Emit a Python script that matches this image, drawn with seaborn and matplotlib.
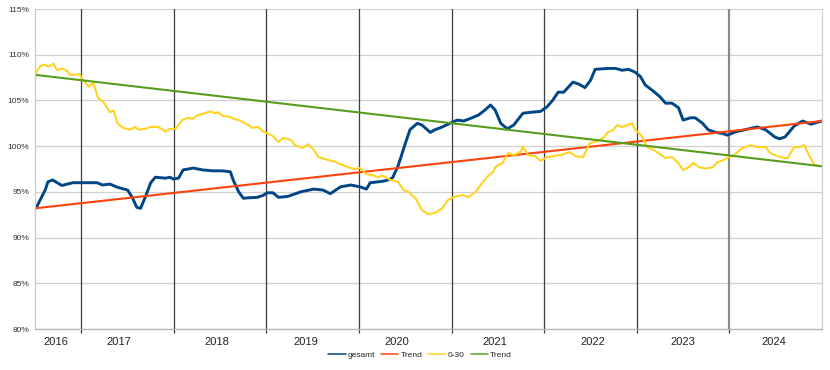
import matplotlib
matplotlib.use('Agg')
import matplotlib.pyplot as plt
import pandas as pd
import seaborn as sns

# weekly index values (decimal year, percent)
gesamt_t = [2016.51, 2016.61, 2016.64, 2016.69, 2016.74, 2016.79, 2016.85, 2016.91, 2017.04, 2017.17,
            2017.23, 2017.31, 2017.39, 2017.50, 2017.55, 2017.60, 2017.64, 2017.69, 2017.75, 2017.80,
            2017.91, 2017.96, 2017.99, 2018.05, 2018.10, 2018.21, 2018.31, 2018.42, 2018.52, 2018.61,
            2018.64, 2018.70, 2018.75, 2018.80, 2018.90, 2018.96, 2019.01, 2019.07, 2019.13, 2019.23,
            2019.37, 2019.51, 2019.61, 2019.69, 2019.80, 2019.91, 2020.01, 2020.08, 2020.12, 2020.21,
            2020.28, 2020.36, 2020.42, 2020.50, 2020.55, 2020.63, 2020.68, 2020.77, 2020.82, 2020.90,
            2020.96, 2021.06, 2021.13, 2021.22, 2021.29, 2021.36, 2021.42, 2021.47, 2021.53, 2021.60,
            2021.67, 2021.77, 2021.85, 2021.96, 2022.03, 2022.09, 2022.15, 2022.21, 2022.31, 2022.37,
            2022.44, 2022.50, 2022.55, 2022.69, 2022.77, 2022.84, 2022.91, 2022.98, 2023.04, 2023.09,
            2023.18, 2023.25, 2023.31, 2023.38, 2023.45, 2023.50, 2023.58, 2023.63, 2023.71, 2023.77,
            2023.85, 2023.92, 2023.98, 2024.06, 2024.17, 2024.30, 2024.39, 2024.49, 2024.54, 2024.60,
            2024.70, 2024.79, 2024.88, 2025.00]
gesamt_v = [93.2, 95.2, 96.1, 96.3, 96.0, 95.7, 95.85, 96.0, 96.0, 96.0,
            95.75, 95.85, 95.5, 95.2, 94.4, 93.3, 93.2, 94.4, 96.0, 96.6,
            96.5, 96.6, 96.4, 96.5, 97.4, 97.6, 97.4, 97.3, 97.3, 97.2,
            96.3, 95.0, 94.3, 94.35, 94.4, 94.6, 94.9, 94.9, 94.4, 94.5,
            95.0, 95.3, 95.2, 94.8, 95.55, 95.75, 95.55, 95.3, 96.0, 96.1,
            96.2, 96.5, 97.8, 100.3, 101.8, 102.5, 102.3, 101.5, 101.8, 102.1,
            102.4, 102.85, 102.75, 103.1, 103.4, 103.95, 104.5, 103.95, 102.5, 101.9,
            102.3, 103.6, 103.7, 103.8, 104.3, 105.0, 105.9, 105.9, 107.0, 106.8,
            106.4, 107.2, 108.4, 108.5, 108.5, 108.3, 108.4, 108.1, 107.6, 106.7,
            106.0, 105.4, 104.7, 104.7, 104.2, 102.85, 103.1, 103.1, 102.5, 101.8,
            101.5, 101.4, 101.2, 101.55, 101.8, 102.1, 101.8, 101.0, 100.8, 101.0,
            102.2, 102.75, 102.4, 102.75]

jung_t = [2016.50, 2016.56, 2016.61, 2016.64, 2016.70, 2016.74, 2016.79, 2016.85, 2016.88, 2016.94,
          2016.98, 2017.02, 2017.08, 2017.13, 2017.18, 2017.24, 2017.28, 2017.31, 2017.35, 2017.39,
          2017.45, 2017.53, 2017.58, 2017.62, 2017.69, 2017.75, 2017.83, 2017.91, 2017.96, 2018.02,
          2018.09, 2018.15, 2018.20, 2018.26, 2018.34, 2018.39, 2018.45, 2018.48, 2018.53, 2018.61,
          2018.64, 2018.70, 2018.77, 2018.85, 2018.91, 2018.97, 2019.01, 2019.07, 2019.13, 2019.18,
          2019.26, 2019.31, 2019.39, 2019.45, 2019.51, 2019.56, 2019.66, 2019.74, 2019.83, 2019.91,
          2019.96, 2020.01, 2020.08, 2020.15, 2020.21, 2020.25, 2020.34, 2020.42, 2020.48, 2020.53,
          2020.61, 2020.68, 2020.75, 2020.82, 2020.90, 2020.96, 2021.04, 2021.12, 2021.18, 2021.26,
          2021.33, 2021.40, 2021.45, 2021.47, 2021.55, 2021.61, 2021.67, 2021.74, 2021.77, 2021.83,
          2021.90, 2021.96, 2022.03, 2022.10, 2022.20, 2022.28, 2022.34, 2022.42, 2022.49, 2022.57,
          2022.64, 2022.69, 2022.74, 2022.79, 2022.84, 2022.90, 2022.95, 2022.98, 2023.02, 2023.06,
          2023.11, 2023.18, 2023.23, 2023.31, 2023.38, 2023.44, 2023.50, 2023.56, 2023.61, 2023.67,
          2023.74, 2023.82, 2023.87, 2023.93, 2024.00, 2024.06, 2024.14, 2024.23, 2024.30, 2024.39,
          2024.44, 2024.52, 2024.59, 2024.63, 2024.70, 2024.76, 2024.81, 2024.86, 2024.92, 2024.98]
jung_v = [107.9, 108.8, 108.9, 108.7, 109.0, 108.3, 108.5, 108.2, 107.8, 107.8,
          107.9, 107.2, 106.5, 106.9, 105.3, 104.8, 104.2, 103.7, 103.9, 102.5,
          102.0, 101.8, 102.1, 101.8, 101.9, 102.1, 102.1, 101.6, 101.9, 101.9,
          102.85, 103.1, 103.0, 103.4, 103.6, 103.8, 103.6, 103.7, 103.3, 103.2,
          103.0, 102.85, 102.5, 102.0, 102.1, 101.55, 101.4, 101.1, 100.45, 100.9,
          100.7, 100.1, 99.8, 100.2, 99.6, 98.8, 98.5, 98.3, 97.9, 97.6,
          97.5, 97.6, 96.95, 96.8, 96.6, 96.8, 96.3, 96.1, 95.2, 95.0,
          94.3, 93.0, 92.55, 92.7, 93.2, 94.1, 94.5, 94.65, 94.4, 95.0,
          96.0, 96.8, 97.2, 97.7, 98.15, 99.25, 99.0, 99.35, 99.9, 99.0,
          98.9, 98.4, 98.8, 98.9, 99.1, 99.35, 98.9, 98.8, 100.3, 100.55,
          100.9, 101.55, 101.75, 102.3, 102.1, 102.3, 102.5, 101.8, 101.45, 101.0,
          99.9, 99.6, 99.25, 98.7, 98.8, 98.25, 97.4, 97.7, 98.15, 97.7,
          97.55, 97.7, 98.25, 98.45, 98.8, 99.1, 99.8, 100.1, 99.9, 99.9,
          99.25, 98.9, 98.7, 98.7, 99.9, 99.9, 100.1, 99.0, 97.9, 97.8]

# linear trend lines (start/end values)
trend_t = [2016.5, 2025.0]
trend_gesamt = [93.2, 102.75]
trend_jung = [107.8, 97.8]

years = [2016, 2017, 2018, 2019, 2020, 2021, 2022, 2023, 2024]
y_ticks = [80, 85, 90, 95, 100, 105, 110, 115]

sns.set_style('white')
plt.rcParams['font.family'] = ['Liberation Sans', 'DejaVu Sans']
plt.rcParams['lines.solid_joinstyle'] = 'round'
plt.rcParams['lines.solid_capstyle'] = 'round'

fig = plt.figure(figsize=(8.3, 3.7), dpi=100)
ax = fig.add_axes([35 / 830, 1 - 329 / 370, 787 / 830, 320 / 370])

sns.lineplot(x=gesamt_t, y=gesamt_v, ax=ax, color='#004586', linewidth=2.1, label='gesamt')
sns.lineplot(x=trend_t, y=trend_gesamt, ax=ax, color='#ff420e', linewidth=1.5, label='Trend')
sns.lineplot(x=jung_t, y=jung_v, ax=ax, color='#ffd320', linewidth=1.5, label='0-30')
sns.lineplot(x=trend_t, y=trend_jung, ax=ax, color='#579d1c', linewidth=1.5, label='Trend')

ax.set_xlim(2016.5, 2025.0)
ax.set_ylim(80, 115)

# year separators
for yr in years[1:]:
    if yr == 2024:
        ax.axvline(yr, color='#8a8a8a', linewidth=1.6, zorder=1)
    else:
        ax.axvline(yr, color='#3c3c3c', linewidth=0.9, zorder=1)

ax.set_yticks(y_ticks)
ax.set_yticklabels([f'{v}%' for v in y_ticks])
ax.yaxis.grid(True, color='#d0d0d0', linewidth=0.9)
ax.set_axisbelow(True)

# year labels sit roughly mid-year, as in the original
label_shift = [0.73, 0.40, 0.46, 0.43, 0.41, 0.47, 0.53, 0.50, 0.48]
ax.set_xticks([yr + s for yr, s in zip(years, label_shift)])
ax.set_xticklabels([str(y) for y in years])
ax.set_xticks(years[1:], minor=True)
ax.tick_params(axis='x', which='major', length=0, pad=6, labelsize=8, labelcolor='#222222')
ax.tick_params(axis='x', which='minor', length=3, direction='out', color='#3c3c3c', width=0.9, bottom=True)
ax.tick_params(axis='y', length=0, pad=4, labelsize=6, labelcolor='#333333')
ax.set_xlabel('')
ax.set_ylabel('')

ax.spines['top'].set_visible(False)
ax.spines['left'].set_color('#c8c8c8')
ax.spines['right'].set_color('#d0d0d0')
ax.spines['bottom'].set_color('#b4b4b4')
for s in ['left', 'right', 'bottom']:
    ax.spines[s].set_linewidth(0.9)

handles, labels = ax.get_legend_handles_labels()
ax.get_legend().remove()
leg = fig.legend(handles, labels, loc='center', bbox_to_anchor=(420 / 830, 1 - 355 / 370), ncol=4,
                 frameon=False, fontsize=6, handlelength=2.1, handletextpad=0.25, columnspacing=0.7)
for line in leg.get_lines():
    line.set_linewidth(1.1)

fig.savefig('out.png', dpi=100)
